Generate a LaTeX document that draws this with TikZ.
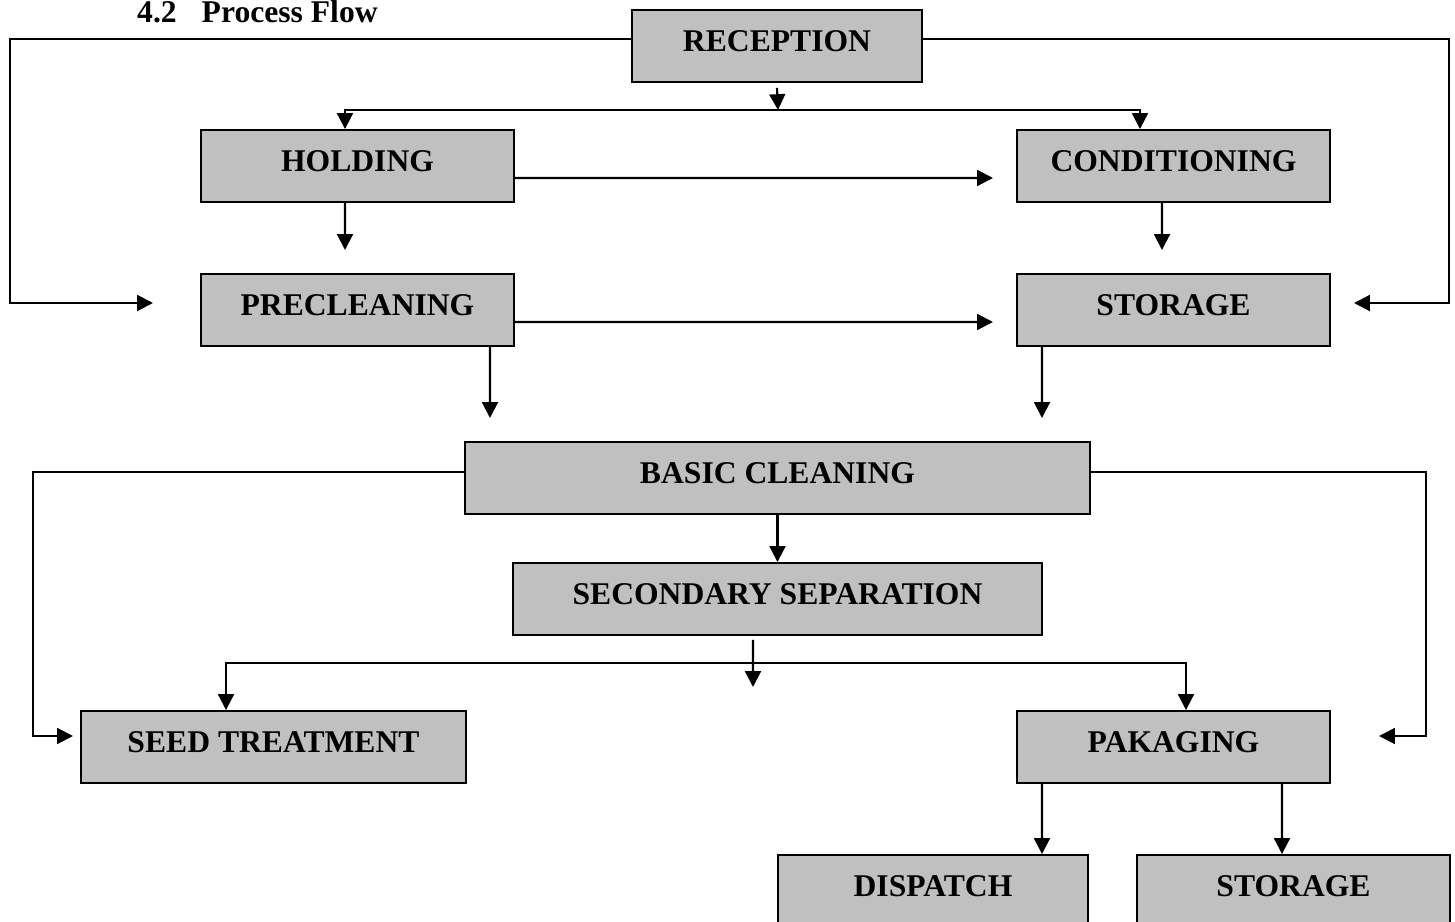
\documentclass[tikz,border=0pt]{standalone}
\usepackage{fontspec}
\setmainfont{Liberation Serif}
\usetikzlibrary{arrows.meta}
\definecolor{boxgray}{RGB}{192,192,192}
\tikzset{
  procbox/.style={draw,fill=boxgray,line width=1.1pt,inner sep=0pt,
    font=\fontsize{18}{20}\selectfont\bfseries,
    text height=12pt,text depth=5.8pt,minimum height=1.44cm},
  flow/.style={line width=1.2pt}
}

\begin{document}
\begin{tikzpicture} [x=0.02cm,y=-0.02cm,>={Triangle[length=9pt,width=9pt]}]
\useasboundingbox (0,0) rectangle (1455,922);
\clip (0,0) rectangle (1455,922);
\node [font=\fontsize{18}{20}\selectfont\bfseries,anchor=base west] (title) at (131,23) {4.2\hspace{0.5cm}Process Flow};
\node [procbox,minimum width=5.8cm] (rec) at (777,46) {RECEPTION};
\node [procbox,minimum width=6.26cm] (hold) at (357.5,166) {HOLDING};
\node [procbox,minimum width=6.26cm] (cond) at (1173.5,166) {CONDITIONING};
\node [procbox,minimum width=6.26cm] (precl) at (357.5,310) {PRECLEANING};
\node [procbox,minimum width=6.26cm] (stor) at (1173.5,310) {STORAGE};
\node [procbox,minimum width=12.5cm] (basic) at (777.5,478) {BASIC CLEANING};
\node [procbox,minimum width=10.58cm] (secsep) at (777.5,599) {SECONDARY SEPARATION};
\node [procbox,minimum width=7.7cm] (seed) at (273.5,747) {SEED TREATMENT};
\node [procbox,minimum width=6.26cm] (pack) at (1173.5,747) {PAKAGING};
\node [procbox,minimum width=6.2cm] (disp) at (933,891) {DISPATCH};
\node [procbox,minimum width=6.26cm] (stortwo) at (1293.5,891) {STORAGE};
% free ends of the arrows
\coordinate (preclin) at (153,303);
\coordinate (storin) at (1354,303);
\coordinate (recsplit) at (778,110);
\coordinate (holdout) at (993,178);
\coordinate (holddown) at (345,250);
\coordinate (conddown) at (1162,250);
\coordinate (preclout) at (993,322);
\coordinate (precldown) at (490,418);
\coordinate (stordown) at (1042,418);
\coordinate (seedin) at (73,736);
\coordinate (packin) at (1379,736);
\coordinate (secsplit) at (753,663);
\coordinate (secdown) at (753,687);
\draw [flow,->] ([yshift=0.14cm]rec.west) -| (10,303) -- (preclin);
\draw [flow,->] ([yshift=0.14cm]rec.east) -| (1449,303) -- (storin);
\draw [flow,->] ([yshift=-0.1cm]rec.south) -- (recsplit);
\draw [flow,->] (recsplit) -| ([xshift=-0.25cm]hold.north);
\draw [flow,->] (recsplit) -| ([xshift=-0.67cm]cond.north);
\draw [flow,->] ([yshift=-0.24cm]hold.east) -- (holdout);
\draw [flow,->] ([xshift=-0.25cm]hold.south) -- (holddown);
\draw [flow,->] ([xshift=-0.23cm]cond.south) -- (conddown);
\draw [flow,->] ([yshift=-0.24cm]precl.east) -- (preclout);
\draw [flow,->] ([xshift=2.65cm]precl.south) -- (precldown);
\draw [flow,->] ([xshift=-2.63cm]stor.south) -- (stordown);
\draw [flow,->] ([yshift=0.12cm]basic.west) -| (33,736) -- (seedin);
\draw [flow,->] ([yshift=0.12cm]basic.east) -| (1426,736) -- (packin);
\draw [flow,->] (basic) -- (secsep);
\draw [flow,->] ([xshift=-0.49cm,yshift=-0.08cm]secsep.south) -- (secdown);
\draw [flow,<->] ([xshift=-0.95cm]seed.north) |- (secsplit) -| ([xshift=0.25cm]pack.north);
\draw [flow,->] ([xshift=-2.63cm]pack.south) -- ([xshift=2.18cm]disp.north);
\draw [flow,->] ([xshift=2.17cm]pack.south) -- ([xshift=-0.23cm]stortwo.north);
\end{tikzpicture}
\end{document}
